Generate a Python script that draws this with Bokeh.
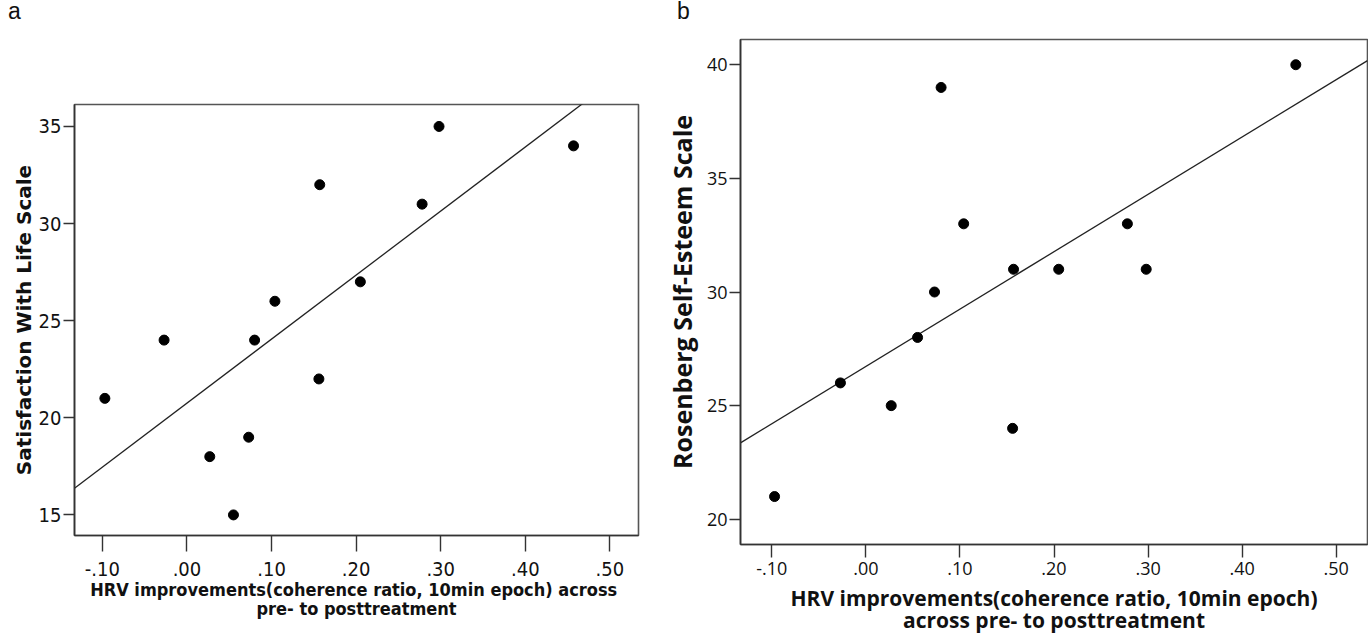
import numpy as np
from bokeh.plotting import figure
from bokeh.layouts import row, column
from bokeh.models import FixedTicker, Range1d, Div
from bokeh.embed import file_html
from bokeh.resources import INLINE

# ---------------- data ----------------
hrv_change = [-0.097, -0.027, 0.027, 0.055, 0.073, 0.080, 0.104, 0.157, 0.156, 0.205, 0.278, 0.298, 0.457]
swls_scores = [21, 24, 18, 15, 19, 24, 26, 32, 22, 27, 31, 35, 34]
hrv_change_b = [-0.097, -0.027, 0.027, 0.055, 0.073, 0.080, 0.104, 0.157, 0.156, 0.205, 0.278, 0.298, 0.457]
rses_scores = [21, 26, 25, 28, 30, 39, 33, 31, 24, 31, 33, 31, 40]

x_ticks = [-0.1, 0.0, 0.1, 0.2, 0.3, 0.4, 0.5]
x_tick_labels = ["-.10", ".00", ".10", ".20", ".30", ".40", ".50"]
swls_ticks = [15, 20, 25, 30, 35]
rses_ticks = [20, 25, 30, 35, 40]

panel_letters = ["a", "b"]
y_titles = ["Satisfaction With Life Scale", "Rosenberg Self-Esteem Scale"]
x_title_a = "HRV improvements(coherence ratio, 10min epoch)  across\npre- to posttreatment"
x_title_b = "HRV improvements(coherence ratio, 10min epoch)\nacross pre- to posttreatment"

TOP_STRIP = 26


def make_panel(xs, ys, yticks, xr, yr, fw, fh, mbl, mbr, mbt, mbb,
               tick_font, tick_size, xt_out, xt_stand, ytitle, ytitle_font, ytitle_size, ystand,
               xtitle, xtitle_font, xtitle_size, xtitle_lh, xtitle_stand):
    p = figure(frame_width=fw, frame_height=fh,
               min_border_left=mbl, min_border_right=mbr,
               min_border_top=mbt, min_border_bottom=mbb,
               x_range=Range1d(*xr), y_range=Range1d(*yr),
               output_backend="svg", toolbar_location=None,
               background_fill_color="white", border_fill_color="white")
    try:
        p.frame_align = False
    except AttributeError:
        pass
    p.grid.visible = False
    p.outline_line_color = "#555555"
    p.outline_line_width = 1.6

    # regression line from the data
    slope, intercept = np.polyfit(np.array(xs), np.array(ys), 1)
    lx = np.array([xr[0], xr[1]])
    p.line(lx, slope * lx + intercept, line_color="#222222", line_width=1.3)
    p.scatter(xs, ys, size=10, marker="circle", fill_color="black", line_color="black")

    xa = p.xaxis[0]
    xa.ticker = FixedTicker(ticks=x_ticks)
    xa.major_label_overrides = dict(zip(x_ticks, x_tick_labels))
    xa.minor_tick_line_color = None
    xa.major_tick_in = 0
    xa.major_tick_out = xt_out
    xa.major_label_standoff = xt_stand
    xa.axis_line_color = "#333333"
    xa.axis_line_width = 1.6
    xa.major_tick_line_color = "#333333"
    xa.major_tick_line_width = 1.4
    xa.major_label_text_font = tick_font
    xa.major_label_text_font_size = tick_size
    xa.major_label_text_color = "#111111"
    xa.axis_label = xtitle
    xa.axis_label_text_font = xtitle_font
    xa.axis_label_text_font_size = xtitle_size
    xa.axis_label_text_font_style = "bold"
    xa.axis_label_text_color = "#111111"
    xa.axis_label_text_line_height = xtitle_lh
    xa.axis_label_standoff = xtitle_stand

    ya = p.yaxis[0]
    ya.ticker = FixedTicker(ticks=yticks)
    ya.minor_tick_line_color = None
    ya.major_tick_in = 0
    ya.major_tick_out = 11
    ya.major_label_standoff = 2
    ya.axis_line_color = "#333333"
    ya.axis_line_width = 1.6
    ya.major_tick_line_color = "#333333"
    ya.major_tick_line_width = 1.4
    ya.major_label_text_font = tick_font
    ya.major_label_text_font_size = tick_size
    ya.major_label_text_color = "#111111"
    ya.axis_label = ytitle
    ya.axis_label_text_font = ytitle_font
    ya.axis_label_text_font_size = ytitle_size
    ya.axis_label_text_font_style = "bold"
    ya.axis_label_text_color = "#111111"
    ya.axis_label_standoff = ystand
    return p


p1 = make_panel(hrv_change, swls_scores, swls_ticks,
                (-0.1329, 0.5338), (13.94, 36.13), 564, 431, 74, 22, 104 - TOP_STRIP, 105,
                "DejaVu Sans Condensed", "20px", 16, 10,
                y_titles[0], "DejaVu Sans", "20px", 0,
                x_title_a, "DejaVu Sans Condensed", "18px", 0.92, 0)

p2 = make_panel(hrv_change_b, rses_scores, rses_ticks,
                (-0.1332, 0.5332), (18.89, 41.11), 627, 505, 80, 1, 39 - TOP_STRIP, 96,
                "Open Sans", "18px", 13, 4,
                y_titles[1], "Open Sans", "25px", 5,
                x_title_b, "Open Sans", "21px", 0.8, 6)

letter_html = (
    '<div style="position:relative;width:1368px;height:%dpx;'
    'font-family:\'Liberation Sans\',sans-serif;font-size:23px;line-height:1;color:#111111;">'
    '<span style="position:absolute;left:8px;top:0px;">%s</span>'
    '<span style="position:absolute;left:677px;top:0px;">%s</span>'
    '</div>' % (TOP_STRIP, panel_letters[0], panel_letters[1])
)
letters = Div(text=letter_html, width=1368, height=TOP_STRIP, margin=(0, 0, 0, 0))

layout = column(letters, row(p1, p2, spacing=0), spacing=0)
open("out.html", "w").write(file_html(layout, INLINE))
